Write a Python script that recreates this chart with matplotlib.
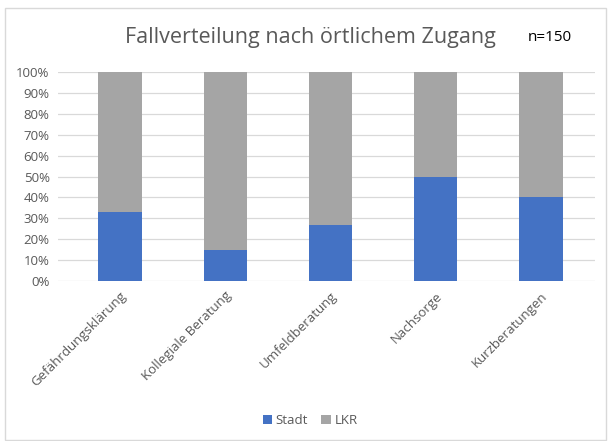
import matplotlib.pyplot as plt
import numpy as np
from matplotlib.patches import Rectangle

# Daten
kategorien = ['Gefährdungsklärung', 'Kollegiale Beratung', 'Umfeldberatung', 'Nachsorge', 'Kurzberatungen']
stadt = [33, 15, 27, 50, 40]
lkr = [67, 85, 73, 50, 60]

blau = '#4472c4'
grau = '#a5a5a5'
textfarbe = '#595959'

plt.rcParams['font.family'] = ['Open Sans', 'DejaVu Sans']

fig = plt.figure(figsize=(6.08, 4.41), dpi=100)
ax = fig.add_axes([0.0954, 0.3628, 0.8832, 0.4739])

x = np.arange(len(kategorien))
ax.bar(x, stadt, width=0.41, color=blau, label='Stadt', zorder=3)
ax.bar(x, lkr, width=0.41, bottom=stadt, color=grau, label='LKR', zorder=3)

ax.set_xlim(-0.589, 4.513)
ax.set_ylim(0, 100)
ax.set_yticks(range(0, 101, 10))
ax.set_yticklabels([f'{v}%' for v in range(0, 101, 10)], color=textfarbe, fontsize=9.5)
ax.yaxis.grid(True, color='#d9d9d9', linewidth=0.9, zorder=0)
ax.set_xticks(x)
ax.set_xticklabels(kategorien, rotation=45, ha='right', rotation_mode='anchor',
                   color=textfarbe, fontsize=9.5)
ax.tick_params(length=0, pad=6)
for s in ax.spines.values():
    s.set_visible(False)

fig.text(0.51, 0.915, 'Fallverteilung nach örtlichem Zugang', ha='center', va='center',
         fontsize=15.5, color=textfarbe)
fig.text(0.905, 0.915, 'n=150', ha='center', va='center', fontsize=11, color='black')

fig.legend(loc='center', bbox_to_anchor=(0.51, 0.047), ncol=2, frameon=False,
           fontsize=9.5, labelcolor=textfarbe, handlelength=0.7, handleheight=0.7,
           handletextpad=0.3, columnspacing=1.0)

fig.patches.append(Rectangle((0.008, 0.002), 0.988, 0.98, transform=fig.transFigure,
                             fill=False, edgecolor='#d9d9d9', linewidth=1))

fig.savefig('out.png', dpi=100)
